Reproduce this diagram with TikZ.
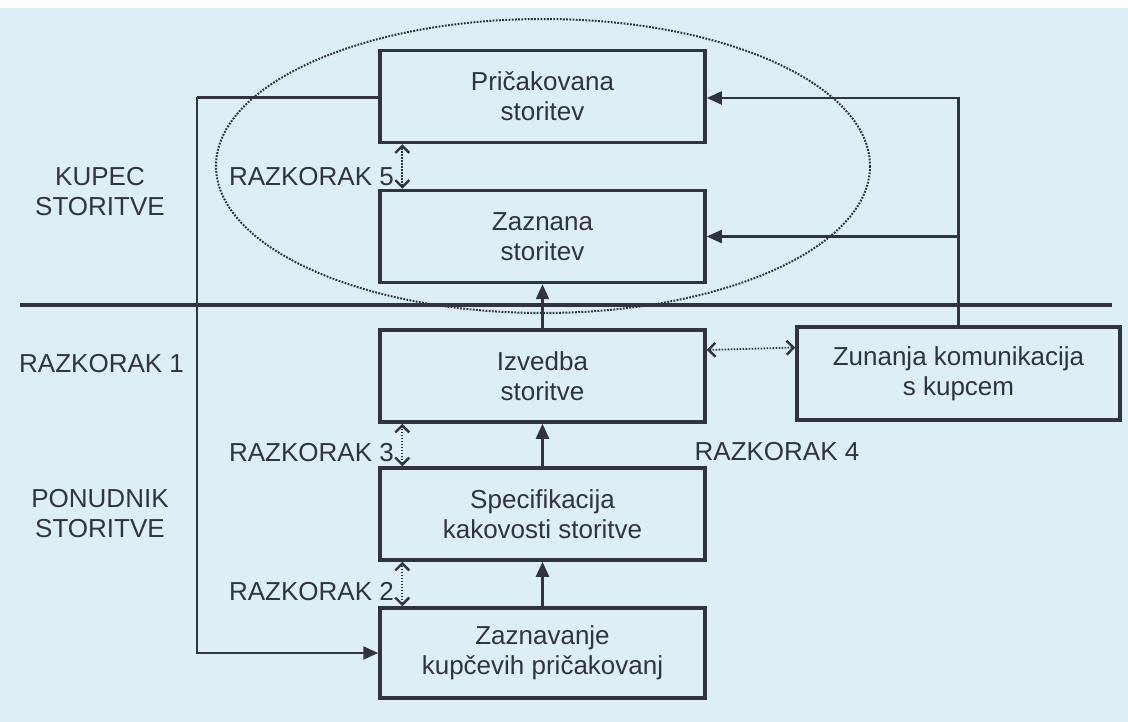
\documentclass[tikz,border=0pt]{standalone}
\usepackage{fontspec}
\setmainfont{Liberation Sans}
\usetikzlibrary{arrows.meta}
\definecolor{bg}{RGB}{221,239,246}
\definecolor{ink}{RGB}{50,50,64}
\begin{document}
\begin{tikzpicture}[x=1pt,y=-1pt,
  txt/.style={text=ink,font=\fontsize{26}{30}\selectfont,inner sep=0pt,align=center},
  boxnode/.style={draw=ink,line width=3.5pt,minimum width=325pt,minimum height=92pt,txt},
  flow/.style={draw=ink,line width=2.2pt,-{Triangle[length=15pt,width=13pt]}},
  conn/.style={draw=ink,line width=2.2pt},
  gaparrow/.style={draw=ink,line width=1.8pt,dash pattern=on 1.6pt off 1.4pt,{Straight Barb[length=7pt,width=14pt,line width=2.4pt]}-{Straight Barb[length=7pt,width=14pt,line width=2.4pt]}},
  sep/.style={draw=ink,line width=3.5pt}]
\useasboundingbox (0,0) rectangle (1128,722);
\fill[white] (0,0) rectangle (1128,722);
\fill[bg] (0,8) rectangle (1128,722);

% ellipse
\draw[ink,line width=2pt,dash pattern=on 1.8pt off 1.4pt] (543,166) ellipse [x radius=327, y radius=147];

% separator
\draw[sep] (20,305) -- (1112,305);

% boxes
\node[boxnode] (prick) at (542.5,96.5) {Pričakovana\\storitev};
\node[boxnode] (zazn) at (542.5,236.5) {Zaznana\\storitev};
\node[boxnode] (izv) at (542.5,376) {Izvedba\\storitve};
\node[boxnode] (spec) at (542.5,514) {Specifikacija\\kakovosti storitve};
\node[boxnode,minimum height=90pt] (zaznav) at (542.5,653) {Zaznavanje\\kupčevih pričakovanj};
\node[boxnode,minimum width=323pt,minimum height=93pt] (zun) at (958.5,373.5) {Zunanja komunikacija\\s kupcem};

% side labels
\node[txt] (kupec) at (100,192) {KUPEC\\STORITVE};
\node[txt,anchor=west] (r1) at (19,364) {RAZKORAK 1};
\node[txt] (ponud) at (100,514) {PONUDNIK\\STORITVE};

% gap labels
\node[txt,anchor=east] (r5) at (394,177) {RAZKORAK 5};
\node[txt,anchor=east] (r3) at (394,453) {RAZKORAK 3};
\node[txt,anchor=east] (r2) at (394,592) {RAZKORAK 2};
\node[txt] (r4) at (777,452) {RAZKORAK 4};

% main flow arrows
\draw[flow] (zaznav.north) -- (spec.south);
\draw[flow] (spec.north) -- (izv.south);
\draw[flow] (izv.north) -- (zazn.south);

% left loop
\coordinate (L) at (197,97.5);
\draw[conn] (prick.west |- L) -- (L);
\draw[flow] (L) |- (zaznav.west);

% right communication lines
\draw[flow] (zun.north) |- ([yshift=-1.5pt]prick.east);
\draw[flow] (zun.north |- zazn.east) -- (zazn.east);

% gap arrows
\draw[gaparrow] ([xshift=24pt]zazn.north west) -- ([xshift=24pt]prick.south west);
\draw[gaparrow] ([xshift=24pt]spec.north west) -- ([xshift=24pt]izv.south west);
\draw[gaparrow] ([xshift=24pt]zaznav.north west) -- ([xshift=24pt]spec.south west);
\draw[gaparrow] ([yshift=26pt]izv.east) -- ([yshift=26pt]zun.west);
\end{tikzpicture}
\end{document}
